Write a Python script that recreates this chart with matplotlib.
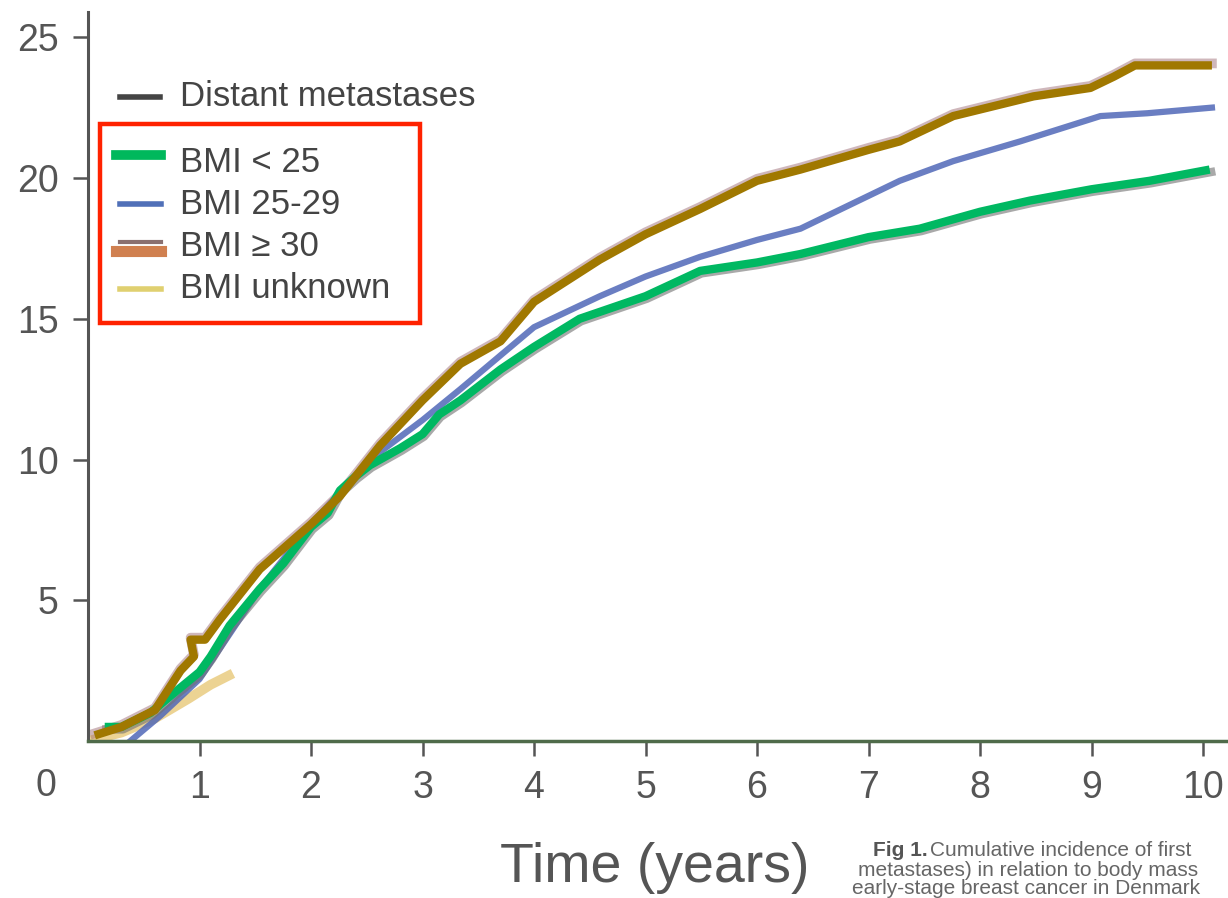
import matplotlib
matplotlib.use('Agg')
import matplotlib.pyplot as plt
import matplotlib.transforms as mtransforms
from matplotlib.lines import Line2D
from matplotlib.patches import Rectangle

# Кумулятивная частота отдалённых метастазов (%) по группам ИМТ
t_low = [0.15, 0.3, 0.56, 0.8, 1.0, 1.1, 1.27, 1.54, 1.75, 2.0, 2.15, 2.26, 2.4,
         2.53, 2.8, 3.0, 3.15, 3.34, 3.7, 4.0, 4.41, 5.0, 5.49, 6.0, 6.39, 7.0,
         7.46, 8.0, 8.45, 9.0, 9.52, 10.06]
bmi_low = [0.5, 0.5, 1.0, 1.8, 2.45, 3.0, 4.1, 5.4, 6.3, 7.6, 8.1, 8.9, 9.4,
           9.8, 10.4, 10.9, 11.6, 12.1, 13.2, 14.0, 15.0, 15.8, 16.7, 17.0, 17.3,
           17.9, 18.2, 18.8, 19.2, 19.6, 19.9, 20.3]

t_mid = [0.38, 0.65, 1.0, 1.54, 2.0, 2.53, 3.0, 3.34, 4.0, 4.59, 5.0, 5.49, 6.0,
         6.39, 7.28, 7.76, 8.36, 9.08, 9.5, 10.08]
bmi_mid = [0.0, 0.9, 2.2, 5.4, 7.7, 10.0, 11.4, 12.5, 14.7, 15.8, 16.5, 17.2, 17.8,
           18.2, 19.9, 20.6, 21.3, 22.2, 22.3, 22.5]

t_high = [0.06, 0.3, 0.6, 0.83, 0.95, 0.92, 1.05, 1.18, 1.54, 2.0, 2.26, 2.62,
          3.0, 3.34, 3.7, 4.0, 4.59, 5.0, 5.49, 6.0, 6.39, 7.0, 7.28, 7.76, 8.48,
          8.99, 9.2, 9.39, 10.08]
bmi_high = [0.2, 0.5, 1.1, 2.5, 3.0, 3.6, 3.6, 4.3, 6.1, 7.7, 8.7, 10.5, 12.1,
            13.4, 14.2, 15.6, 17.1, 18.0, 18.9, 19.9, 20.3, 21.0, 21.3, 22.2,
            22.9, 23.2, 23.6, 24.0, 24.0]

t_unk = [0.0, 0.3, 0.6, 0.9, 1.1, 1.3]
bmi_unk = [0.0, 0.3, 0.8, 1.5, 2.0, 2.4]

x_ticks = [1, 2, 3, 4, 5, 6, 7, 8, 9, 10]
y_ticks = [5, 10, 15, 20, 25]

legend_labels = ['BMI < 25', 'BMI 25-29', 'BMI \u2265 30', 'BMI unknown']

W, H = 1228, 898
fig = plt.figure(figsize=(W / 100, H / 100), dpi=100)
fig.patch.set_facecolor('white')

# оси: ноль по x на 88 px, шаг 111.5 px/год; по y 28.15 px на 1 %
x0, y0 = 88, 741
ax = fig.add_axes([x0 / W, (H - y0) / H, (W - x0) / W, (y0 - 12) / H])
ax.set_xlim(0, (W - x0) / 111.5)
ax.set_ylim(0, (y0 - 12) / 28.15)

font = ['Liberation Sans', 'DejaVu Sans']

# исходные кривые (размытая подложка) и выделенные поверх
off = mtransforms.ScaledTranslation(1.5 / 100, -2.5 / 100, fig.dpi_scale_trans)
ax.plot(t_unk, bmi_unk, color='#e8c878', lw=7, alpha=0.8, solid_capstyle='butt')
ax.plot(t_mid, bmi_mid, color='#5068b8', lw=4.5, alpha=0.85)
ax.plot(t_low, bmi_low, color='#707070', lw=6, alpha=0.6,
        transform=ax.transData + off)
ax.plot(t_high, bmi_high, color='#a07078', lw=7, alpha=0.5,
        transform=ax.transData + mtransforms.ScaledTranslation(0, 2 / 100, fig.dpi_scale_trans))
ax.plot(t_low, bmi_low, color='#00b862', lw=6, solid_capstyle='butt')
ax.plot(t_high, bmi_high, color='#a07800', lw=6, solid_capstyle='butt')

for s in ['top', 'right']:
    ax.spines[s].set_visible(False)
ax.spines['left'].set_color('#555555')
ax.spines['left'].set_linewidth(2.2)
ax.spines['bottom'].set_color('#4f6b4a')
ax.spines['bottom'].set_linewidth(2.5)

ax.set_xticks(x_ticks)
ax.set_yticks(y_ticks)
ax.tick_params(axis='both', colors='#555555', width=1.8, length=11,
               labelsize=27, pad=10)
for lab in ax.get_xticklabels() + ax.get_yticklabels():
    lab.set_family(font)
    lab.set_color('#555555')
ax.text(-0.38, -1.6, '0', fontsize=27, color='#555555', family=font,
        ha='center', va='center', clip_on=False)

fig.text(655 / W, 1 - 868 / H, 'Time (years)', fontsize=40, color='#555555',
         family=font, ha='center', va='center')

# легенда, нарисованная вручную
def px(x, y):
    return x / W, 1 - y / H

fig.add_artist(Line2D(*zip(px(120, 97), px(160, 97)), color='#444444', lw=4))
fig.text(*px(180, 97), 'Distant metastases', fontsize=25, color='#444444',
         family=font, va='center')

rows = [162, 204, 246, 289]
fig.add_artist(Line2D(*zip(px(116, 155), px(161, 155)), color='#00b85c', lw=7))
fig.add_artist(Line2D(*zip(px(120, 204), px(161, 204)), color='#5070b8', lw=4))
fig.add_artist(Line2D(*zip(px(120, 242), px(161, 242)), color='#8a7070', lw=3))
fig.add_artist(Line2D(*zip(px(116, 251), px(161, 251)), color='#d08050', lw=8))
fig.add_artist(Line2D(*zip(px(120, 289), px(161, 289)), color='#e0d070', lw=4))
for y, lab in zip(rows, legend_labels):
    fig.text(*px(180, y), lab, fontsize=25, color='#444444',
             family=font, va='center')

fig.add_artist(Rectangle(px(100, 323), 320 / W, 199 / H, fill=False,
                         edgecolor='#ff2200', lw=3.2, transform=fig.transFigure))

# подпись к рисунку
fig.text(*px(873, 851), 'Fig 1.', fontsize=15, color='#555555',
         family=font, weight='bold', va='center')
fig.text(*px(930, 851), 'Cumulative incidence of first', fontsize=15,
         color='#666666', family=font, va='center')
fig.text(*px(858, 870), 'metastases) in relation to body mass', fontsize=15,
         color='#666666', family=font, va='center')
fig.text(*px(852, 888), 'early-stage breast cancer in Denmark', fontsize=15,
         color='#666666', family=font, va='center')

fig.savefig('out.png', dpi=100)
